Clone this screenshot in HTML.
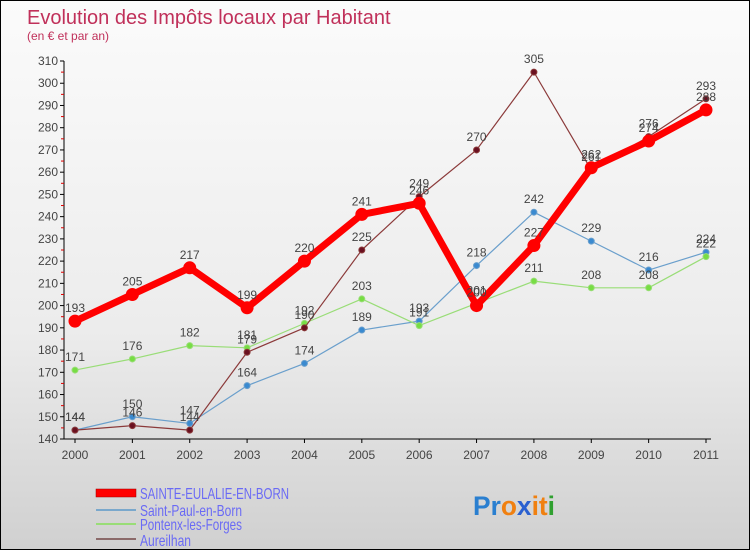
<!DOCTYPE html>
<html><head><meta charset="utf-8"><style>
html,body{margin:0;padding:0}
body{width:750px;height:550px;overflow:hidden;font-family:"Liberation Sans",sans-serif}
#c{position:absolute;left:0;top:0;width:748px;height:548px;border:1px solid #000;background:linear-gradient(#fbfbfb 0%,#ececec 60%,#d0d0d0 100%)}
</style></head><body>
<div id="c">
<svg id="s" width="748" height="548" xmlns="http://www.w3.org/2000/svg">
<text x="26" y="23" font-size="20" fill="#c0305a">Evolution des Impôts locaux par Habitant</text>
<text x="26" y="39" font-size="12" fill="#c0305a">(en € et par an)</text>
<g id="axes"></g><g id="series"></g>
<g>
<rect x="95" y="488" width="40" height="8" fill="#f00" stroke="#900" stroke-width="0.5"/>
<text x="139" y="498" font-size="16" fill="#6a6af5" textLength="149" lengthAdjust="spacingAndGlyphs">SAINTE-EULALIE-EN-BORN</text>
<line x1="95" y1="509" x2="135" y2="509" stroke="#7aa8cc" stroke-width="2"/>
<text x="139" y="515" font-size="16" fill="#6a6af5" textLength="102" lengthAdjust="spacingAndGlyphs">Saint-Paul-en-Born</text>
<line x1="95" y1="523" x2="135" y2="523" stroke="#99dd77" stroke-width="2"/>
<text x="139" y="529" font-size="16" fill="#6a6af5" textLength="102" lengthAdjust="spacingAndGlyphs">Pontenx-les-Forges</text>
<line x1="95" y1="538" x2="135" y2="538" stroke="#8b6a6a" stroke-width="2"/>
<text x="139" y="545" font-size="16" fill="#6a6af5" textLength="51" lengthAdjust="spacingAndGlyphs">Aureilhan</text>
</g>
<text x="472" y="514" font-size="27" font-weight="bold" textLength="82" lengthAdjust="spacingAndGlyphs"><tspan fill="#2a7fd0">Pr</tspan><tspan fill="#f08010">o</tspan><tspan fill="#2a60d0">x</tspan><tspan fill="#f08010">it</tspan><tspan fill="#30a030">i</tspan></text>
</svg></div>
<script>
const years=[2000,2001,2002,2003,2004,2005,2006,2007,2008,2009,2010,2011];
const sainteEulalie=[193,205,217,199,220,241,246,200,227,262,274,288];
const saintPaul=[144,150,147,164,174,189,193,218,242,229,216,224];
const pontenx=[171,176,182,181,192,203,191,201,211,208,208,222];
const aureilhan=[144,146,144,179,190,225,249,270,305,261,276,293];
const yTicks=[140,150,160,170,180,190,200,210,220,230,240,250,260,270,280,290,300,310];
const NS="http://www.w3.org/2000/svg";
const x=i=>74+i*(631/(years.length-1));
const y=v=>438-(v-140)*(378/170);
function mk(t,a,p){const e=document.createElementNS(NS,t);for(const k in a)e.setAttribute(k,a[k]);p.appendChild(e);return e;}
const ax=document.getElementById('axes');
let l=mk('line',{x1:63,y1:y(310),x2:63,y2:y(140),stroke:'#000'},ax);


l=mk('line',{x1:63,y1:y(140),x2:x(11)+5,y2:y(140),stroke:'#000'},ax);


yTicks.forEach(v=>{
 mk('line',{x1:59,y1:y(v),x2:63,y2:y(v),stroke:'#000'},ax);
 if(v<310)mk('line',{x1:60,y1:y(v+5),x2:63,y2:y(v+5),stroke:'#d00'},ax);
 const t=mk('text',{x:57,y:y(v)+4,'font-size':12,fill:'#444','text-anchor':'end'},ax);
 t.textContent=v;
 
 
});
years.forEach((yr,i)=>{
 mk('line',{x1:x(i),y1:y(140),x2:x(i),y2:y(140)+4,stroke:'#000'},ax);
 const t=mk('text',{x:x(i),y:y(140)+20,'font-size':12,fill:'#444','text-anchor':'middle'},ax);
 t.textContent=yr;
 
 
});
const sg=document.getElementById('series');
function draw(vals,color,w,r,dot,name){
 const g=mk('g',{},sg);
 
 
 const p=mk('polyline',{points:vals.map((v,i)=>x(i)+','+y(v)).join(' '),fill:'none',stroke:color,'stroke-width':w,'stroke-linejoin':'round'},g);
 
 
 vals.forEach((v,i)=>{
  const c=mk('circle',{cx:x(i),cy:y(v),r:r,fill:dot,stroke:color,'stroke-width':1},g);
  
  
  const t=mk('text',{x:x(i),y:y(v)-9,'font-size':12,fill:'#444','text-anchor':'middle'},g);
  t.textContent=v;
  
  
 });
}
draw(saintPaul,'#6a9fcc',1.2,3,'#3a8ad0','saint-paul');
draw(pontenx,'#99dd77',1.2,3,'#77dd44','pontenx');
draw(aureilhan,'#8b3a3a',1.2,3,'#6a1020','aureilhan');
draw(sainteEulalie,'#ff0000',7,6,'#ff0000','sainte-eulalie');
</script>
</body></html>
